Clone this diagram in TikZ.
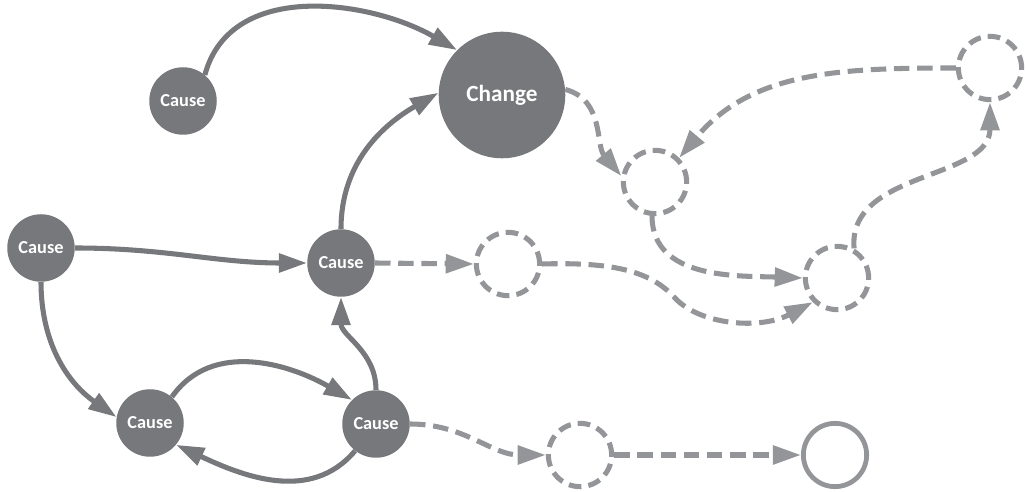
\documentclass[tikz,border=0pt]{standalone}
\usepackage{fontspec}
\setmainfont{Carlito}
\usetikzlibrary{arrows.meta}
\definecolor{dark}{HTML}{77787B}
\definecolor{light}{HTML}{939598}
\tikzset{
  cause/.style={circle,fill=dark,text=white,inner sep=0pt,minimum size=48pt,font=\bfseries\fontsize{13}{15}\selectfont},
  change/.style={cause,minimum size=90pt,font=\bfseries\fontsize{16.5}{19}\selectfont},
  ghost/.style={circle,draw=light,line width=3.6pt,dash pattern=on 9pt off 5pt,minimum size=45pt,inner sep=0pt},
  goal/.style={circle,draw=light,line width=3.4pt,minimum size=45pt,inner sep=0pt},
  link/.style={draw=dark,line width=3.6pt,-{Triangle[length=20pt,width=13pt]}},
  dlink/.style={draw=light,line width=3.6pt,dash pattern=on 11pt off 5.5pt,-{Triangle[length=20pt,width=13pt]}}
}
\begin{document}
\begin{tikzpicture}[x=0.025cm,y=0.025cm]
\useasboundingbox (0,0) rectangle (1027,492);
\node[cause] (ctop) at (183,391) {Cause};
\node[change] (change) at (502,397) {Change};
\node[cause] (cleft) at (41,244) {Cause};
\node[cause] (cmid) at (341,229) {Cause};
\node[cause] (cbl) at (150,69) {Cause};
\node[cause] (cbr) at (376,68) {Cause};
\node[ghost] (ga) at (655,310) {};
\node[ghost] (gtr) at (990,424) {};
\node[ghost] (gb) at (837,214) {};
\node[ghost] (gc) at (508,228) {};
\node[ghost] (gd) at (580,37) {};
\node[goal] (end) at (835,37) {};
\coordinate (k1) at (675,194);
\draw[link] (ctop.50) to[out=75,in=150] (change.135);
\draw[link] (cmid.north) to[out=90,in=210] (change.178);
\draw[link] (cleft.east) to[out=0,in=180] (cmid.west);
\draw[link] (cleft.south) to[out=-90,in=145] (cbl.170);
\draw[link] (cbl.50) to[out=55,in=150] (cbr.135);
\draw[link] (cbr.232) to[out=-130,in=-25] (cbl.-40);
\draw[link] (cbr.north) to[out=90,in=-90] (cmid.south);
\draw[dlink] (change.5) to[out=-15,in=130] (ga.170);
\draw[dlink] (gtr.west) to[out=180,in=50] (ga.45);
\draw[dlink] (ga.-95) to[out=-90,in=178] (gb.west);
\draw[dlink] (gb.60) to[out=95,in=-90] (gtr.south);
\draw[dlink] (cmid.east) -- (gc.west);
\draw[dlink] (gc.east) .. controls (610,230) and (650,222) .. (k1) .. controls (700,167) and (760,162) .. (gb.225);
\draw[dlink] (cbr.east) to[out=0,in=180] (gd.west);
\draw[dlink] (gd.east) -- (end.west);
\end{tikzpicture}
\end{document}
